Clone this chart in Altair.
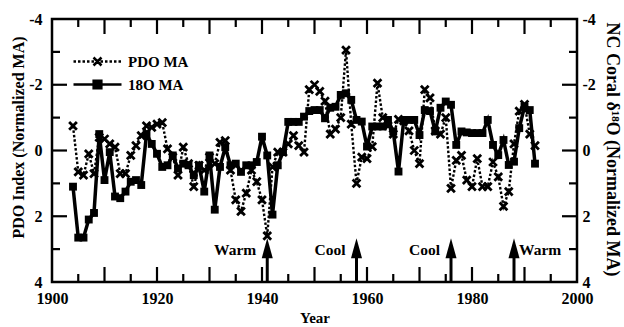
import altair as alt
import pandas as pd

# ---------------- data ----------------
years = list(range(1904, 1993))
pdo_ma = [
    -0.75, 0.65, 0.75, 0.10, 0.70, -0.40,                              # 1904-1909
    -0.35, -0.20, -0.10, 0.70, 0.70, 0.15, -0.15, -0.45, -0.75, -0.70,  # 1910s
    -0.80, -0.85, -0.05, 0.20, 0.75, -0.10, 0.40, 1.10, 0.45, 0.60,     # 1920s
    0.20, 0.40, -0.25, -0.30, 0.60, 1.50, 1.85, 1.30, 0.60, 0.95,       # 1930s
    1.50, 2.60, 0.50, 0.05, 0.05, -0.20, -0.45, -0.15, 0.05, -1.85,     # 1940s
    -2.00, -1.80, -1.50, -0.50, -0.65, -1.00, -3.05, -0.80, 1.00, 0.20, # 1950s
    0.25, -0.12, -2.05, -1.00, -0.75, -0.50, -0.95, -0.90, -0.60, 0.00, # 1960s
    0.40, -1.85, -1.60, -0.60, -0.50, -1.00, 1.15, 0.30, 0.15, 0.90,    # 1970s
    1.10, 0.25, 1.10, 1.10, 0.35, 0.80, 1.70, 1.25, -0.20, -1.20,       # 1980s
    -1.40, -0.50, -0.15,                                                # 1990-1992
]
o18_ma = [
    1.10, 2.65, 2.65, 2.10, 1.90, -0.50,                                # 1904-1909
    0.90, 0.05, 1.40, 1.45, 1.25, 0.95, 0.90, 1.05, -0.50, -0.20,       # 1910s
    0.10, 0.50, 0.45, 0.15, 0.55, 0.40, 0.45, 0.75, 0.45, 1.25,         # 1920s
    0.15, 1.80, 0.50, -0.10, 0.45, 0.40, 0.65, 0.45, 0.45, 0.35,        # 1930s
    -0.42, 0.15, 1.95, 0.45, 0.05, -0.87, -0.87, -0.87, -1.03, -1.20,   # 1940s
    -1.23, -1.23, -0.98, -1.30, -1.33, -1.69, -1.74, -1.54, -0.93, -0.88,  # 1950s
    -0.12, -0.73, -0.73, -0.73, -0.93, -0.58, 0.64, -0.93, -0.93, -0.93,   # 1960s
    -0.47, -1.23, -1.20, -0.58, -1.30, -1.49, -1.39, -0.17, -0.58, -0.55,  # 1970s
    -0.53, -0.53, -0.53, -0.93, -0.17, 0.14, -0.32, 0.44, 0.34, -0.68,     # 1980s
    -1.33, -1.23, 0.40,                                                    # 1990-1992
]
series_names = ["PDO MA", "18O MA"]
x_label_values = [1900, 1920, 1940, 1960, 1980, 2000]
y_label_values = [-4, -2, 0, 2, 4]
x_tick_values = list(range(1905, 2000, 5))
y_tick_values = [-3, -2, -1, 0, 1, 2, 3]
event_years = [1941, 1958, 1976, 1988]
event_labels = ["Warm", "Cool", "Cool", "Warm"]
event_side = ["left", "left", "left", "right"]

# ---------------- styling ----------------
FONT = "Liberation Serif"
W, H = 525, 263
LONG, SHORT = 15, 8

df = pd.DataFrame({"year": years, "pdo": pdo_ma, "o18": o18_ma})
xt = pd.DataFrame({"pos": x_tick_values, "major": [v % 10 == 0 for v in x_tick_values]})
yt = pd.DataFrame({"pos": y_tick_values, "major": [v % 2 == 0 for v in y_tick_values]})
ev = pd.DataFrame({"year": event_years, "label": event_labels, "side": event_side})
leg = pd.DataFrame({"series": series_names})

xscale = alt.Scale(domain=[1900, 2000], nice=False, zero=False)
yscale = alt.Scale(domain=[-4, 4], reverse=True, nice=False, zero=False)

common_axis = dict(
    labelFont=FONT, labelFontSize=16, labelFontWeight="bold", labelColor="black",
    titleFont=FONT, titleFontWeight="bold", titleColor="black",
    ticks=False, tickSize=0, domain=False, grid=False,
    labelFlush=False, labelOverlap=False, labelBound=False,
    labelExpr="'' + datum.value",
)
x_axis = alt.Axis(values=x_label_values, title="Year", labelPadding=8,
                  titleFontSize=15, titleY=40, titleBaseline="alphabetic", **common_axis)
y_axis_left = alt.Axis(orient="left", values=y_label_values, title="PDO Index (Normalized MA)",
                       labelPadding=10, titleFontSize=16, titleX=-34, titleY=118,
                       titleAngle=270, titleAlign="center", titleBaseline="middle", **common_axis)
y_axis_right = alt.Axis(orient="right", values=y_label_values, title="NC Coral \u03b4\u00b9\u2078O (Normalized MA)",
                        labelPadding=5, titleFontSize=18, titleX=34, titleY=130,
                        titleAngle=90, titleAlign="center", titleBaseline="middle", **common_axis)

X = alt.X("year:Q", scale=xscale, axis=x_axis)
Xp = alt.X("year:Q")

cross_path = "M-1,-1L1,1M1,-1L-1,1"
head_path = "M0,-1L0.55,1L-0.55,1Z"

# legend glyphs (line + marker); symbol box 16 px (unit = 8 px), line reaches +-3 units
U = 8.0
dots = []
pos = -3.0
while pos < 3.0:
    end = min(pos + 2.5 / U, 3.0)
    dots.append(f"M{pos:.3f},0L{end:.3f},0")
    pos += 4.5 / U
pdo_leg_path = "".join(dots) + "M-0.5,-0.5L0.5,0.5M0.5,-0.5L-0.5,0.5"
sq = lambda r: f"M{-r},{-r}L{r},{-r}L{r},{r}L{-r},{r}Z"
o18_leg_path = "M-3,0L3,0" + sq(0.48) + sq(0.2) + "M-0.08,0L0.08,0"

pdo_line = alt.Chart(df).mark_line(color="black", strokeWidth=2.4, strokeDash=[2.5, 2]).encode(
    x=X, y=alt.Y("pdo:Q", scale=yscale, axis=y_axis_left))
o18_line = alt.Chart(df).mark_line(color="black", strokeWidth=3.5).encode(x=Xp, y=alt.Y("o18:Q"))
pdo_pts = alt.Chart(df).mark_point(shape=cross_path, filled=False, color="black", strokeWidth=2.8,
                                   size=60, opacity=1).encode(x=Xp, y=alt.Y("pdo:Q"))
o18_pts = alt.Chart(df).mark_point(shape="square", filled=True, color="black", size=62, opacity=1).encode(
    x=Xp, y=alt.Y("o18:Q"))


def xticks(major, top):
    L = LONG if major else SHORT
    y0, y1 = (0, L) if top else (H, H - L)
    return alt.Chart(xt).transform_filter(f"datum.major == {str(major).lower()}").mark_rule(
        color="black", strokeWidth=2.2).encode(
        x=alt.X("pos:Q"), y=alt.value(y0), y2=alt.value(y1))


def yticks(major, right):
    L = LONG if major else SHORT
    x0, x1 = (W, W - L) if right else (0, L)
    return alt.Chart(yt).transform_filter(f"datum.major == {str(major).lower()}").mark_rule(
        color="black", strokeWidth=2.2).encode(
        y=alt.Y("pos:Q"), x=alt.value(x0), x2=alt.value(x1))


tick_layers = [xticks(m, t) for m in (True, False) for t in (True, False)] + \
              [yticks(m, r) for m in (True, False) for r in (True, False)]

shaft = alt.Chart(ev).mark_rule(color="black", strokeWidth=3).encode(
    x=Xp, y=alt.datum(4), y2=alt.datum(3.1))
head = alt.Chart(ev).mark_point(shape=head_path, filled=True, color="black", size=400, opacity=1).encode(
    x=Xp, y=alt.datum(2.97))
text_props = dict(font=FONT, fontSize=15.5, fontWeight="bold", color="black", baseline="alphabetic")
text_left = alt.Chart(ev).transform_filter("datum.side == 'left'").mark_text(
    align="right", dx=-11, **text_props).encode(x=Xp, y=alt.datum(3.18), text="label:N")
text_right = alt.Chart(ev).transform_filter("datum.side == 'right'").mark_text(
    align="left", dx=5, **text_props).encode(x=Xp, y=alt.datum(3.18), text="label:N")

legend_layer = alt.Chart(leg).transform_filter("false").mark_point(
    filled=False, color="black", strokeWidth=2.5, size=256, opacity=1).encode(
    shape=alt.Shape("series:N", scale=alt.Scale(domain=series_names, range=[pdo_leg_path, o18_leg_path]),
                    legend=alt.Legend(title=None, orient="none", legendX=36, legendY=33, padding=0,
                                      symbolSize=256, symbolStrokeWidth=2.5,
                                      symbolStrokeColor="black", symbolOpacity=1, rowPadding=4,
                                      labelFont=FONT, labelFontSize=15, labelFontWeight="bold",
                                      labelColor="black", labelOffset=21)))

inner = alt.layer(pdo_line, o18_line, pdo_pts, o18_pts, *tick_layers, shaft, head, text_left, text_right,
                  legend_layer)

right_axis_layer = alt.Chart(pd.DataFrame({"v": y_label_values})).mark_point(opacity=0).encode(
    y=alt.Y("v:Q", scale=alt.Scale(domain=[-4, 4], reverse=True, nice=False, zero=False), axis=y_axis_right))

chart = alt.layer(inner, right_axis_layer).resolve_scale(y="independent").properties(
    width=W, height=H,
    padding={"left": 52, "top": 19, "right": 47, "bottom": 45},
    autosize=alt.AutoSizeParams(type="none"),
).configure(background="white", view=alt.ViewConfig(stroke="black", strokeWidth=2.5))

chart.save("out.html", embed_options={"renderer": "svg", "actions": False})
